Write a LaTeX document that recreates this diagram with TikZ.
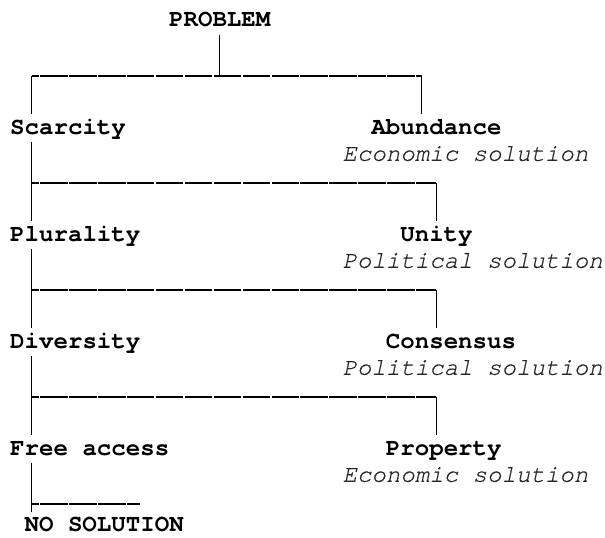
\documentclass[tikz,border=0pt]{standalone}
\usepackage{fontspec}
\setmonofont{TeX Gyre Cursor}
\newfontfamily\solfont[FakeBold=0.5]{TeX Gyre Cursor}
\usepackage{tikz}
\usetikzlibrary{positioning}
\definecolor{solgray}{gray}{0.15}

\begin{document}
\begin{tikzpicture}[x=14.45pt,y=-26.75pt,
    lbl/.style={anchor=west,inner sep=0pt,minimum height=26.75pt,text height=12pt,text depth=0pt,
        font=\fontsize{24.1pt}{26.75pt}\selectfont\ttfamily\bfseries},
    sol/.style={lbl,font=\fontsize{24.1pt}{26.75pt}\selectfont\solfont\itshape,text=solgray},
    vbar/.style={line width=0.9pt},
    hbar/.style={line width=1.6pt,dash pattern=on 27.4pt off 1.5pt,dash phase=20.2pt}]%
    \useasboundingbox (-0.692,-0.785) rectangle (41.176,19.29); %%
    % grid: one unit = one character cell
    \node[lbl] (problem) at (11,0) {PROBLEM}; %%
    \node[lbl] (scarcity) at (0,4) {Scarcity}; %%
    \node[lbl] (abundance) at (25,4) {Abundance}; %%
    \node[sol] (econ1) at (23,5) {Economic solution}; %%
    \node[lbl] (plurality) at (0,8) {Plurality}; %%
    \node[lbl] (unity) at (27,8) {Unity}; %%
    \node[sol] (pol1) at (23,9) {Political solution}; %%
    \node[lbl] (diversity) at (0,12) {Diversity}; %%
    \node[lbl] (consensus) at (26,12) {Consensus}; %%
    \node[sol] (pol2) at (23,13) {Political solution}; %%
    \node[lbl] (freeacc) at (0,16) {Free access}; %%
    \node[lbl] (property) at (26,16) {Property}; %%
    \node[sol] (econ2) at (23,17) {Economic solution}; %%
    \node[lbl] (nosol) at (1,18.85) {NO SOLUTION}; %%
    % junctions
    \coordinate (top) at (14.5,2.05); %%
    \coordinate (l0) at (1.5,2.05); %%
    \coordinate (r0) at (28.5,2.05); %%
    \coordinate (l1) at (1.5,6.05); %%
    \coordinate (r1) at (29.5,6.05); %%
    \coordinate (l2) at (1.5,10.05); %%
    \coordinate (r2) at (29.5,10.05); %%
    \coordinate (l3) at (1.5,14.05); %%
    \coordinate (r3) at (29.5,14.05); %%
    \coordinate (l4) at (1.5,18.05); %%
    \coordinate (e4) at (9,18.05); %%
    % first split
    \draw[vbar] (problem.south -| top)--(top); %%
    \draw[hbar] (l0)--(r0); %%
    \draw[vbar] (l0)--(scarcity.north -| l0); %%
    \draw[vbar] (r0)--(abundance.north -| r0); %%
    % lower splits
    \draw[vbar] (scarcity.south -| l1)--(plurality.north -| l1); %%
    \draw[hbar] (l1)--(r1); %%
    \draw[vbar] (r1)--(unity.north -| r1); %%
    \draw[vbar] (plurality.south -| l2)--(diversity.north -| l2); %%
    \draw[hbar] (l2)--(r2); %%
    \draw[vbar] (r2)--(consensus.north -| r2); %%
    \draw[vbar] (diversity.south -| l3)--(freeacc.north -| l3); %%
    \draw[hbar] (l3)--(r3); %%
    \draw[vbar] (r3)--(property.north -| r3); %%
    \draw[vbar] (freeacc.south -| l4)--(l4); %%
    \draw[vbar] (l4)--(nosol.north -| l4); %%
    \draw[hbar] (l4)--(e4); %%
\end{tikzpicture}
\end{document}
